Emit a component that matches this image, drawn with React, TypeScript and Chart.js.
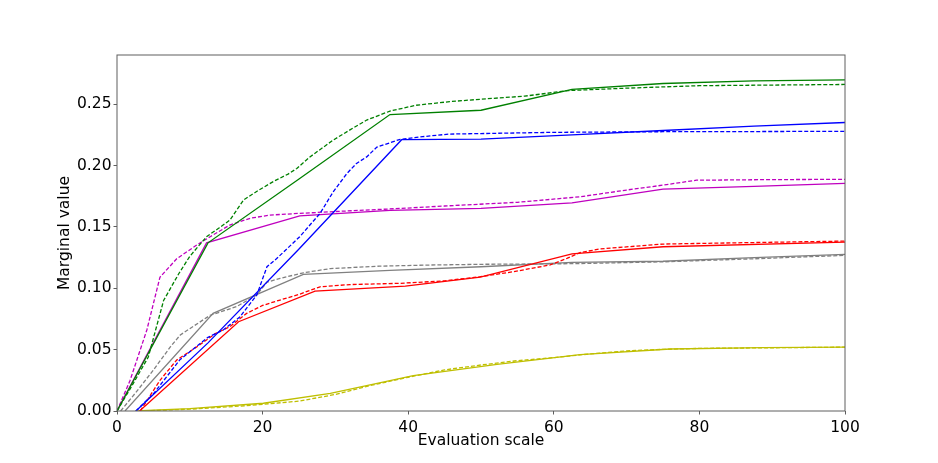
import React, { useEffect, useRef } from "react";
import Chart from "chart.js/auto";

// marginal value functions, solid = fitted model, dashed = reference
const greenSolidX = [0, 12.5, 25, 37.5, 50, 62.5, 75, 87.5, 100];
const greenSolidY = [0, 0.137, 0.189, 0.2415, 0.245, 0.262, 0.2668, 0.269, 0.2698];
const greenDashX = [0, 2, 4.3, 6.4, 8.5, 10, 12.3, 14, 15.5, 17.4, 19.5, 21.5, 23.5, 24.7, 26.5, 29.7, 32, 34.3, 37.5, 41, 45.7, 50, 56, 62, 70, 80, 100];
const greenDashY = [0, 0.02, 0.044, 0.09, 0.112, 0.126, 0.142, 0.149, 0.1555, 0.172, 0.18, 0.187, 0.193, 0.1976, 0.207, 0.2207, 0.229, 0.237, 0.2443, 0.249, 0.252, 0.254, 0.2565, 0.261, 0.263, 0.265, 0.266];

const blueSolidX = [2.6, 12.5, 25, 39.1, 50, 62.5, 75, 87.5, 100];
const blueSolidY = [0, 0.0555, 0.132, 0.221, 0.2215, 0.225, 0.2285, 0.232, 0.235];
const blueDashX = [2.6, 5, 8.6, 12.5, 14.6, 16.9, 19.2, 20.6, 21.9, 23.5, 25.1, 27.9, 29.7, 31.6, 32.9, 34.3, 35.7, 38.9, 42, 45.7, 50, 60, 75, 100];
const blueDashY = [0, 0.014, 0.0415, 0.06, 0.066, 0.0768, 0.0945, 0.1175, 0.124, 0.133, 0.142, 0.161, 0.1786, 0.1936, 0.2017, 0.207, 0.215, 0.2213, 0.2235, 0.2256, 0.226, 0.227, 0.2275, 0.2278];

const magentaSolidX = [0, 12.3, 25.1, 37.5, 50, 62.5, 75, 87.5, 100];
const magentaSolidY = [0, 0.137, 0.159, 0.1635, 0.165, 0.1695, 0.1808, 0.183, 0.1855];
const magentaDashX = [0, 1.8, 4.1, 5.9, 8.2, 10.9, 12.8, 15.5, 18.3, 21, 25.1, 30, 38.9, 45, 55, 63.6, 70, 75, 79.6, 90, 100];
const magentaDashY = [0, 0.025, 0.066, 0.109, 0.124, 0.135, 0.142, 0.1515, 0.157, 0.1596, 0.161, 0.1625, 0.165, 0.167, 0.17, 0.1745, 0.18, 0.184, 0.188, 0.1885, 0.1887];

const redSolidX = [3.1, 16.7, 27.2, 39.6, 49.9, 62.5, 75, 100];
const redSolidY = [0, 0.0727, 0.0977, 0.1018, 0.109, 0.128, 0.1338, 0.1376];
const redDashX = [3.2, 5.9, 8.2, 10.9, 13.5, 15.5, 17.8, 20, 22.4, 25, 27.9, 32, 38.9, 45, 49.9, 54.4, 59.5, 61.8, 63.6, 66.3, 75, 85, 100];
const redDashY = [0, 0.025, 0.0415, 0.052, 0.063, 0.0687, 0.0795, 0.086, 0.0904, 0.095, 0.1012, 0.103, 0.104, 0.106, 0.1094, 0.1134, 0.119, 0.1243, 0.129, 0.132, 0.136, 0.137, 0.1384];

const graySolidX = [1.1, 13.2, 25.6, 37.5, 50, 62.5, 75, 87.5, 100];
const graySolidY = [0, 0.0795, 0.1113, 0.1145, 0.1175, 0.121, 0.122, 0.125, 0.1276];
const grayDashX = [0.5, 2.5, 5, 7.3, 8.7, 12.8, 16.4, 19.2, 20.6, 22.4, 25.6, 29.3, 36.1, 43, 50, 62.5, 75, 87.5, 100];
const grayDashY = [0, 0.0144, 0.0334, 0.052, 0.062, 0.078, 0.085, 0.0945, 0.105, 0.108, 0.1126, 0.116, 0.118, 0.1189, 0.1195, 0.12, 0.1215, 0.124, 0.1268];

const yellowSolidX = [2.5, 10, 20.1, 29.3, 40.7, 52.2, 63.6, 76, 88.7, 100];
const yellowSolidY = [0, 0.002, 0.0063, 0.0144, 0.0288, 0.038, 0.046, 0.0505, 0.0516, 0.052];
const yellowDashX = [3, 10, 17, 25, 30, 35, 40, 45, 50, 55, 60, 65, 70, 75, 80, 90, 100];
const yellowDashY = [0, 0.0015, 0.004, 0.008, 0.0135, 0.021, 0.0275, 0.0335, 0.0375, 0.041, 0.0435, 0.0465, 0.049, 0.0502, 0.051, 0.0515, 0.052];

const xTicks = [0, 20, 40, 60, 80, 100];
const yTicks = [0, 0.05, 0.1, 0.15, 0.2, 0.25];

const FONT = "'DejaVu Sans', sans-serif";
const SPINE = "#5e5e5e";

function pts(xs: number[], ys: number[]) {
  return xs.map((x, i) => ({ x, y: ys[i] }));
}

function series(xs: number[], ys: number[], color: string, dashed: boolean) {
  return {
    data: pts(xs, ys),
    borderColor: color,
    backgroundColor: color,
    borderWidth: 1.3,
    borderDash: dashed ? [4, 2] : [],
    pointRadius: 0,
    tension: 0,
    fill: false,
  };
}

const frame = {
  id: "frame",
  afterDatasetsDraw(chart: Chart) {
    const { ctx, chartArea } = chart;
    ctx.save();
    ctx.strokeStyle = SPINE;
    ctx.lineWidth = 1;
    ctx.strokeRect(chartArea.left, chartArea.top, chartArea.right - chartArea.left, chartArea.bottom - chartArea.top);
    ctx.restore();
  },
};

export default function App() {
  const canvasRef = useRef<HTMLCanvasElement | null>(null);

  useEffect(() => {
    if (!canvasRef.current) return;
    const chart = new Chart(canvasRef.current, {
      type: "line",
      data: {
        datasets: [
          series(greenSolidX, greenSolidY, "#008000", false),
          series(greenDashX, greenDashY, "#008000", true),
          series(blueSolidX, blueSolidY, "#0000ff", false),
          series(blueDashX, blueDashY, "#0000ff", true),
          series(magentaSolidX, magentaSolidY, "#bf00bf", false),
          series(magentaDashX, magentaDashY, "#bf00bf", true),
          series(redSolidX, redSolidY, "#ff0000", false),
          series(redDashX, redDashY, "#ff0000", true),
          series(graySolidX, graySolidY, "#808080", false),
          series(grayDashX, grayDashY, "#808080", true),
          series(yellowSolidX, yellowSolidY, "#bfbf00", false),
          series(yellowDashX, yellowDashY, "#bfbf00", true),
        ],
      },
      options: {
        animation: false,
        responsive: true,
        maintainAspectRatio: false,
        layout: { padding: { left: 0, right: 93, top: 55, bottom: 0 } },
        plugins: {
          legend: { display: false },
          tooltip: { enabled: false },
        },
        scales: {
          x: {
            type: "linear",
            min: 0,
            max: 100,
            afterBuildTicks: (s: any) => {
              s.ticks = xTicks.map((v) => ({ value: v }));
            },
            afterFit: (s: any) => {
              s.height = 52;
            },
            ticks: {
              color: "#000",
              font: { family: FONT, size: 15.5 },
              padding: 4,
              maxRotation: 0,
              callback: (v: any) => String(v),
            },
            grid: { drawOnChartArea: false, drawTicks: true, tickLength: 3.5, color: SPINE },
            border: { display: false },
            title: {
              display: true,
              text: "Evaluation scale",
              color: "#000",
              font: { family: FONT, size: 15.5 },
              padding: { top: 0, bottom: 13 },
            },
          },
          y: {
            type: "linear",
            min: 0,
            max: 0.29,
            afterBuildTicks: (s: any) => {
              s.ticks = yTicks.map((v) => ({ value: v }));
            },
            afterFit: (s: any) => {
              s.width = 117;
            },
            ticks: {
              color: "#000",
              font: { family: FONT, size: 15.5 },
              padding: 2,
              callback: (v: any) => Number(v).toFixed(2),
            },
            grid: { drawOnChartArea: false, drawTicks: true, tickLength: 3.5, color: SPINE },
            border: { display: false },
            title: {
              display: true,
              text: "Marginal value",
              color: "#000",
              font: { family: FONT, size: 15.5 },
              padding: { top: 56, bottom: 0 },
            },
          },
        },
      },
      plugins: [frame],
    });
    return () => chart.destroy();
  }, []);

  return (
    <div style={{ position: "fixed", left: 0, top: 0, width: 938, height: 463, background: "#fff" }}>
      <canvas ref={canvasRef} />
    </div>
  );
}
